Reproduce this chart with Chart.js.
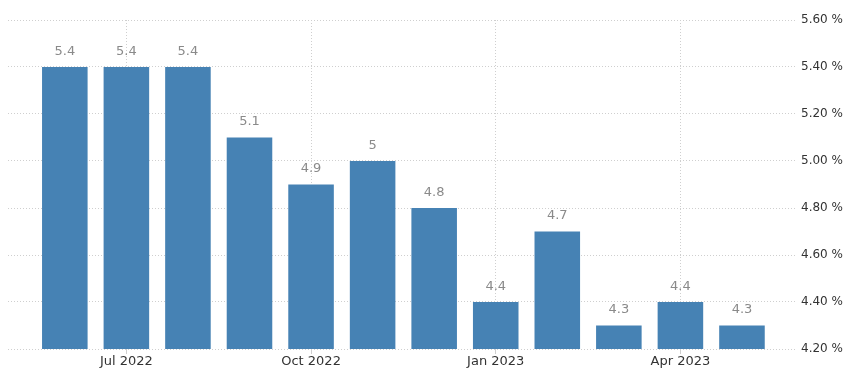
<!DOCTYPE html>
<html>
<head>
<meta charset="utf-8">
<script src="https://cdn.jsdelivr.net/npm/chart.js@4"></script>
<style>
  body { margin: 0; background: #fff; }
  #wrap { width: 853px; height: 379px; }
</style>
</head>
<body>
<div id="wrap"><canvas id="rateChart" width="853" height="379"></canvas></div>
<script>
// monthly values Jun 2022 .. May 2023
const months = ['Jun 2022', 'Jul 2022', 'Aug 2022', 'Sep 2022', 'Oct 2022', 'Nov 2022',
                'Dec 2022', 'Jan 2023', 'Feb 2023', 'Mar 2023', 'Apr 2023', 'May 2023'];
const rates = [5.4, 5.4, 5.4, 5.1, 4.9, 5, 4.8, 4.4, 4.7, 4.3, 4.4, 4.3];
const xTickLabels = ['Jul 2022', 'Oct 2022', 'Jan 2023', 'Apr 2023'];
const yTicks = [4.2, 4.4, 4.6, 4.8, 5.0, 5.2, 5.4, 5.6];

const gridColor = '#cfcfcf';
const tickIndex = xTickLabels.map(l => months.indexOf(l));

// draws the value above each bar
const valueLabels = {
    id: 'valueLabels',
    afterDatasetsDraw(chart) {
        const ctx = chart.ctx;
        const meta = chart.getDatasetMeta(0);
        ctx.save();
        ctx.font = '13px "DejaVu Sans"';
        ctx.fillStyle = '#8a8a8a';
        ctx.textAlign = 'center';
        ctx.textBaseline = 'bottom';
        meta.data.forEach((bar, i) => {
            ctx.fillText(String(rates[i]), bar.x, bar.y - 9);
        });
        ctx.restore();
    }
};

new Chart(document.getElementById('rateChart'), {
    type: 'bar',
    data: {
        datasets: [{
            data: rates.map((v, i) => ({ x: i, y: v })),
            backgroundColor: '#4682b4',
            borderWidth: 0,
            barPercentage: 0.74,
            categoryPercentage: 1
        }]
    },
    options: {
        responsive: false,
        animation: false,
        layout: { padding: { top: 20, left: 8, bottom: 5, right: 0 } },
        plugins: { legend: { display: false }, tooltip: { enabled: false } },
        scales: {
            x: {
                type: 'linear',
                min: -0.923,
                max: 11.894,
                offset: false,
                afterBuildTicks(axis) {
                    axis.ticks = tickIndex.map(v => ({ value: v }));
                },
                afterFit(axis) { axis.height = 25; },
                ticks: {
                    autoSkip: false,
                    maxRotation: 0,
                    color: '#333',
                    font: { family: 'DejaVu Sans', size: 13 },
                    padding: 0,
                    callback: v => months[v]
                },
                grid: {
                    offset: false,
                    color: gridColor,
                    tickColor: gridColor,
                    tickLength: 5
                },
                border: { display: false, dash: [1, 2] }
            },
            y: {
                position: 'right',
                min: 4.2,
                max: 5.6,
                afterBuildTicks(axis) {
                    axis.ticks = yTicks.map(v => ({ value: v }));
                },
                afterFit(axis) { axis.width = 56; },
                ticks: {
                    color: '#333',
                    font: { family: 'DejaVu Sans', size: 12 },
                    padding: 4,
                    callback: v => v.toFixed(2) + ' %'
                },
                grid: { color: gridColor, drawTicks: false },
                border: { display: false, dash: [1, 2] }
            }
        }
    },
    plugins: [valueLabels]
});
</script>
</body>
</html>
